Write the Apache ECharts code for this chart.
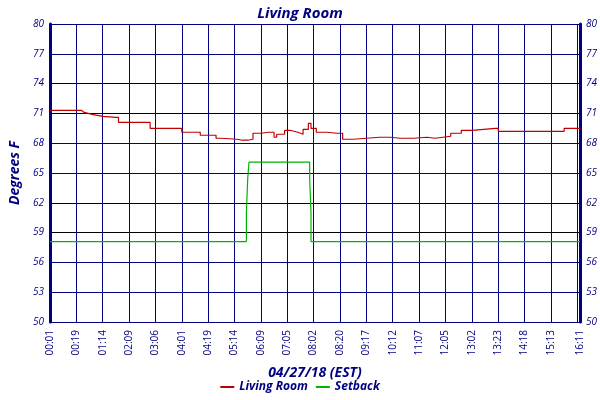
<!DOCTYPE html>
<html><head><meta charset="utf-8">
<script src="https://cdn.jsdelivr.net/npm/echarts@6/dist/echarts.min.js"></script>
<style>body{margin:0}#c{width:600px;height:400px}</style></head>
<body><div id="c"></div>
<script>
const xLabels=['00:01','00:19','01:14','02:09','03:06','04:01','04:19','05:14','06:09','07:05','08:02','08:20','09:17','10:12','11:07','12:05','13:02','13:23','14:18','15:13','16:08'];
const endLabel='16:11';
const roomX=[0,0.6,1.2,1.3,1.6,2.0,2.5,2.6,3.5,3.8,4.5,5.0,5.7,6.3,6.5,7.1,7.3,7.5,7.7,8.0,8.3,8.5,8.6,8.9,9.1,9.4,9.6,9.8,9.9,10.1,10.5,10.9,11.1,11.5,12.0,12.5,12.9,13.3,13.8,14.3,14.6,14.9,15.2,15.6,16.0,16.9,17.0,17.5,18.0,18.5,19.4,19.5,20.1];
const roomY=[71.3,71.3,71.1,70.9,70.7,70.6,70.6,70.1,70.1,69.5,69.5,69.1,68.8,68.5,68.4,68.3,68.3,68.4,69.0,69.1,69.1,68.6,68.9,69.3,69.1,68.9,69.4,70.0,69.5,69.1,69.0,69.0,68.4,68.5,68.6,68.6,68.5,68.5,68.6,68.5,68.6,68.7,69.0,69.3,69.5,69.5,69.2,69.2,69.2,69.2,69.2,69.5,69.4];
const setX=[0,7.45,7.45,7.5,7.5,7.55,7.55,9.85,9.85,9.9,9.9,20.1];
const setY=[58.1,58.1,61.0,61.0,64.4,64.4,66.1,66.1,64.4,61.0,58.1,58.1];
const navy='#000080';
const font="'Open Sans', 'DejaVu Sans', sans-serif";
const pair=(xs,ys)=>xs.map((x,i)=>[x,ys[i]]);
const yax=(pos)=>({type:'value',position:pos,min:50,max:80,interval:3,
  axisLine:{show:true,lineStyle:{color:navy,width:3}},axisTick:{show:false},
  axisLabel:{color:navy,fontSize:10,fontStyle:'italic',fontFamily:font,margin:6},
  splitLine:{show:pos==='left',lineStyle:{color:['#000','#000080','#000080','#000'],width:1}}});
const chart=echarts.init(document.getElementById('c'));
chart.setOption({
  animation:false,backgroundColor:'#fff',
  title:{text:'Living Room',left:'center',top:1,textStyle:{color:navy,fontSize:15,fontStyle:'italic',fontWeight:'bold',fontFamily:font}},
  grid:{left:40,right:20,top:24,bottom:78},
  legend:{bottom:2,itemWidth:14,itemHeight:2,icon:'rect',textStyle:{color:navy,fontStyle:'italic',fontWeight:'bold',fontSize:12,fontFamily:font},data:['Living Room','Setback']},
  xAxis:{type:'value',min:0,max:20.1,interval:1,name:'04/27/18 (EST)',nameLocation:'middle',nameGap:44,
    nameTextStyle:{color:navy,fontSize:14,fontStyle:'italic',fontWeight:'bold',fontFamily:font},
    axisLine:{lineStyle:{color:navy}},axisTick:{show:false},
    axisLabel:{rotate:90,color:navy,fontSize:10,fontFamily:font,showMaxLabel:true,
      formatter:v=>Math.abs(v-20.1)<0.01?endLabel:(xLabels[Math.round(v)]||'')},
    splitLine:{show:true,lineStyle:{color:navy,width:1}}},
  yAxis:[Object.assign(yax('left'),{name:'Degrees F',nameLocation:'middle',nameGap:26,nameTextStyle:{color:navy,fontSize:14,fontStyle:'italic',fontWeight:'bold',fontFamily:font}}),yax('right')],
  series:[
    {name:'Living Room',type:'line',step:'end',data:pair(roomX,roomY),symbol:'none',lineStyle:{color:'#c00000',width:1.2},itemStyle:{color:'#c00000'}},
    {name:'Setback',type:'line',data:pair(setX,setY),symbol:'none',lineStyle:{color:'#00b400',width:1.2},itemStyle:{color:'#00b400'}}
  ]
});
</script></body></html>
